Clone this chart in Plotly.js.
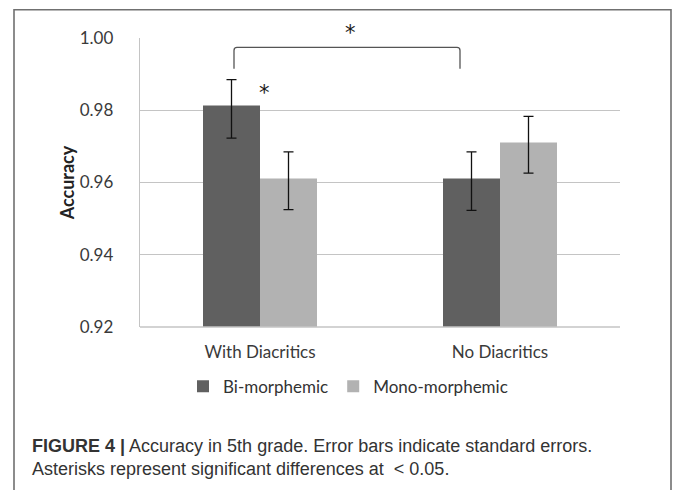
<!DOCTYPE html>
<html>
<head>
<meta charset="utf-8">
<script src="https://cdn.plot.ly/plotly-3.0.1.min.js"></script>
<style>
  html, body { margin: 0; padding: 0; background: #ffffff; }
  #chart { width: 673px; height: 490px; }
</style>
</head>
<body>
<div id="chart"></div>
<script>
// ---- data ----
const categories = ["With Diacritics", "No Diacritics"];
const seriesNames = ["Bi-morphemic", "Mono-morphemic"];
const biValues = [0.9813, 0.9611];
const monoValues = [0.9611, 0.9711];
const biErrPlus = [0.0072, 0.0074];
const biErrMinus = [0.0090, 0.0088];
const monoErrPlus = [0.0074, 0.0072];
const monoErrMinus = [0.0086, 0.0085];
const yTickVals = [0.92, 0.94, 0.96, 0.98, 1.00];
const yTickText = ["0.92", "0.94", "0.96", "0.98", "1.00"];
const captionBold = "FIGURE 4 |";
const captionLine1 = " Accuracy in 5th grade. Error bars indicate standard errors.";
const captionLine2 = "Asterisks represent significant differences at\u00a0\u00a0< 0.05.";

// ---- layout geometry (pixels) ----
const W = 673, H = 490;
const PL = 140, PR = 620, PT = 38.3, PB = 327.3;
const px = x => (x - PL) / (PR - PL);
const py = y => (PB - y) / (PB - PT);

const labelFont = { family: "Lato, 'Open Sans', sans-serif", size: 17, color: "#3a3a3a" };
const errStyle = { thickness: 1.3, width: 5, color: "#111111" };

const traces = [
  {
    type: "bar", name: seriesNames[0], x: categories, y: biValues,
    marker: { color: "#606060" },
    error_y: Object.assign({ type: "data", symmetric: false, array: biErrPlus, arrayminus: biErrMinus, visible: true }, errStyle),
    hoverinfo: "y"
  },
  {
    type: "bar", name: seriesNames[1], x: categories, y: monoValues,
    marker: { color: "#b2b2b2" },
    error_y: Object.assign({ type: "data", symmetric: false, array: monoErrPlus, arrayminus: monoErrMinus, visible: true }, errStyle),
    hoverinfo: "y"
  }
];

// bracket path (pixel -> paper)
const bx0 = 234, bx1 = 460, byTop = 47.7, byBot = 69, r = 3;
const bracketPath =
  `M ${px(bx0)},${py(byBot)} L ${px(bx0)},${py(byTop + r)} ` +
  `Q ${px(bx0)},${py(byTop)} ${px(bx0 + r)},${py(byTop)} ` +
  `L ${px(bx1 - r)},${py(byTop)} ` +
  `Q ${px(bx1)},${py(byTop)} ${px(bx1)},${py(byTop + r)} ` +
  `L ${px(bx1)},${py(byBot)}`;

const layout = {
  width: W, height: H,
  margin: { l: PL, r: W - PR, t: PT, b: H - PB, pad: 0 },
  paper_bgcolor: "#ffffff",
  plot_bgcolor: "#ffffff",
  barmode: "group",
  bargap: 0.525,
  bargroupgap: 0,
  showlegend: true,
  legend: {
    orientation: "h", x: px(348), xanchor: "center", y: py(387), yanchor: "middle",
    font: { family: "Lato, 'Open Sans', sans-serif", size: 17, color: "#333333" },
    itemwidth: 30, traceorder: "normal", bgcolor: "rgba(0,0,0,0)"
  },
  xaxis: {
    type: "category", showgrid: false, showline: false, zeroline: false,
    ticks: "", tickfont: labelFont, ticklabelstandoff: 13, automargin: false, fixedrange: true
  },
  yaxis: {
    range: [0.92, 1.0], tickvals: yTickVals, ticktext: yTickText,
    showgrid: true, gridcolor: "#c4c4c4", gridwidth: 1.3,
    showline: true, linecolor: "#c4c4c4", linewidth: 1.3,
    zeroline: false, ticks: "", tickfont: labelFont, ticklabelstandoff: 22,
    automargin: false, fixedrange: true,
    title: { text: "<b>Accuracy</b>", font: { family: "Lato, 'Open Sans', sans-serif", size: 18, color: "#222222" }, standoff: 0 }
  },
  shapes: [
    // x axis baseline
    { type: "line", xref: "paper", yref: "paper", x0: 0, x1: 1, y0: 0, y1: 0,
      line: { color: "#c4c4c4", width: 1.3 }, layer: "above" },
    // significance bracket
    { type: "path", xref: "paper", yref: "paper", path: bracketPath,
      line: { color: "#555555", width: 1.3 } },
    // figure frame
    { type: "rect", xref: "paper", yref: "paper",
      x0: px(14), x1: px(671), y0: py(10), y1: py(500),
      line: { color: "#707070", width: 1.6 } }
  ],
  annotations: [
    { text: "*", xref: "paper", yref: "paper", x: px(350), y: py(33), showarrow: false,
      font: { family: "'DejaVu Sans', sans-serif", size: 21, color: "#1a1a1a" }, xanchor: "center", yanchor: "middle" },
    { text: "*", xref: "paper", yref: "paper", x: px(264), y: py(93), showarrow: false,
      font: { family: "'DejaVu Sans', sans-serif", size: 21, color: "#1a1a1a" }, xanchor: "center", yanchor: "middle" },
    { text: "<b>" + captionBold + "</b>" + captionLine1, xref: "paper", yref: "paper",
      x: px(30), y: py(446), xanchor: "left", yanchor: "middle", showarrow: false, align: "left",
      font: { family: "'Liberation Sans', Arial, sans-serif", size: 18, color: "#333333" } },
    { text: captionLine2, xref: "paper", yref: "paper",
      x: px(30), y: py(469), xanchor: "left", yanchor: "middle", showarrow: false, align: "left",
      font: { family: "'Liberation Sans', Arial, sans-serif", size: 18, color: "#333333" } }
  ]
};

Plotly.newPlot("chart", traces, layout, { displayModeBar: false, staticPlot: true });
</script>
</body>
</html>
